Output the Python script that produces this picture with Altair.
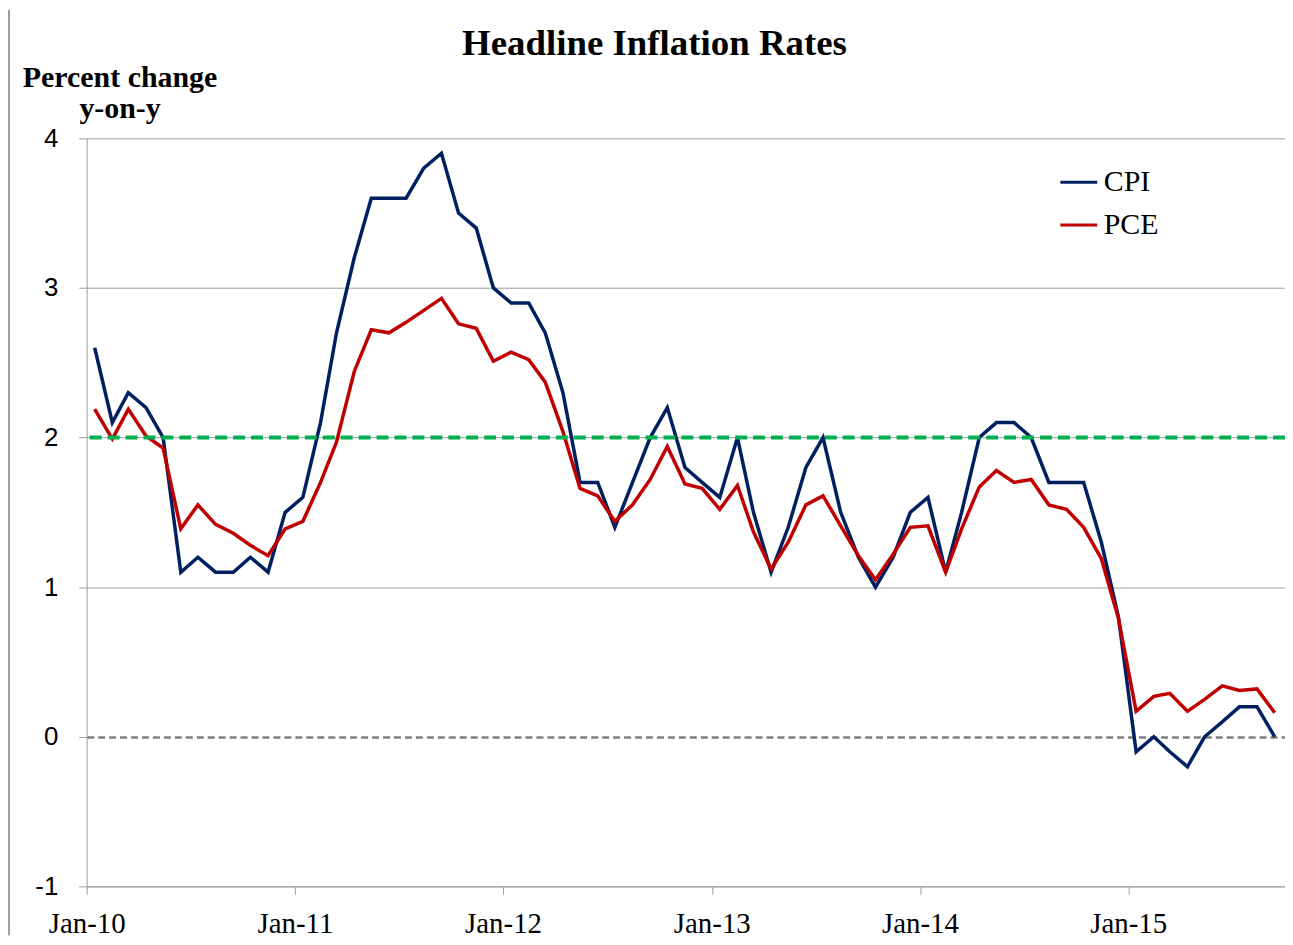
import altair as alt
import pandas as pd

years = [2010, 2011, 2012, 2013, 2014, 2015]

cpi = [
    2.6, 2.1, 2.3, 2.2, 2.0, 1.1, 1.2, 1.1, 1.1, 1.2, 1.1, 1.5,
    1.6, 2.1, 2.7, 3.2, 3.6, 3.6, 3.6, 3.8, 3.9, 3.5, 3.4, 3.0,
    2.9, 2.9, 2.7, 2.3, 1.7, 1.7, 1.4, 1.7, 2.0, 2.2, 1.8, 1.7,
    1.6, 2.0, 1.5, 1.1, 1.4, 1.8, 2.0, 1.5, 1.2, 1.0, 1.2, 1.5,
    1.6, 1.1, 1.5, 2.0, 2.1, 2.1, 2.0, 1.7, 1.7, 1.7, 1.3, 0.8,
    -0.1, 0.0, -0.1, -0.2, 0.0, 0.1, 0.2, 0.2, 0.0,
]

pce = [
    2.19, 1.99, 2.19, 2.01, 1.93, 1.39, 1.55, 1.42, 1.36, 1.28, 1.21, 1.39,
    1.44, 1.70, 1.97, 2.44, 2.72, 2.70, 2.77, 2.85, 2.93, 2.76, 2.73, 2.51,
    2.57, 2.52, 2.37, 2.04, 1.66, 1.61, 1.44, 1.55, 1.72, 1.94, 1.69, 1.66,
    1.52, 1.68, 1.37, 1.12, 1.30, 1.55, 1.61, 1.41, 1.21, 1.05, 1.22, 1.40,
    1.41, 1.10, 1.39, 1.67, 1.78, 1.70, 1.72, 1.55, 1.52, 1.40, 1.19, 0.79,
    0.17, 0.27, 0.29, 0.17, 0.25, 0.34, 0.31, 0.32, 0.16,
]

series_names = ["CPI", "PCE"]
series_colors = ["#002060", "#c00000"]
target_rate = [2.0]
y_ticks = [-1, 0, 1, 2, 3, 4]
chart_title = ["Headline Inflation Rates"]
y_title = ["Percent change", "y-on-y"]

n = len(cpi)
month_dates = [f"{y}-{m:02d}-15" for y in years for m in range(1, 13)][:n]

df = pd.DataFrame({
    "date": month_dates * 2,
    "series": ["CPI"] * n + ["PCE"] * n,
    "value": cpi + pce,
})
target_df = pd.DataFrame({"target": target_rate})
title_df = pd.DataFrame({"title": chart_title})
frame_df = pd.DataFrame({"k": [0]})

serif = "Liberation Serif"
sans = "Liberation Sans"
axis_gray = "#a0a0a0"

x_scale = alt.Scale(
    type="utc",
    domain=[alt.DateTime(year=2010, month=1, date=1, utc=True),
            alt.DateTime(year=2015, month=10, date=3, utc=True)],
)
y_scale = alt.Scale(domain=[-1, 4], nice=False, zero=False)

x_axis = alt.Axis(
    values=[alt.DateTime(year=y, month=1, date=1, utc=True) for y in years],
    format="%b-%y",
    grid=False,
    title=None,
    labelFont=serif,
    labelFontSize=29,
    labelColor="black",
    labelPadding=15,
    tickSize=8,
    tickColor=axis_gray,
    domainColor=axis_gray,
    labelFlush=False,
)

y_axis = alt.Axis(
    values=y_ticks,
    labelExpr="'' + datum.value",
    labelFont=sans,
    labelFontSize=26,
    labelColor="black",
    labelPadding=21,
    tickSize=8,
    tickColor=axis_gray,
    domainColor=axis_gray,
    grid=True,
    gridColor={"condition": {"test": "datum.value === 0", "value": "#7f7f7f"}, "value": axis_gray},
    gridWidth={"condition": {"test": "datum.value === 0", "value": 2.5}, "value": 1},
    gridDash={"condition": {"test": "datum.value === 0", "value": [7, 4]}, "value": []},
    title=y_title,
    titleAngle=0,
    titleAlign="center",
    titleBaseline="alphabetic",
    titleX=33,
    titleY=-52,
    titleFont=serif,
    titleFontSize=30,
    titleFontWeight="bold",
    titleColor="black",
    titleLineHeight=31,
)

lines = alt.Chart(df).mark_line(strokeWidth=3.5).encode(
    x=alt.X("date:T", scale=x_scale, axis=x_axis),
    y=alt.Y("value:Q", scale=y_scale, axis=y_axis),
    color=alt.Color(
        "series:N",
        scale=alt.Scale(domain=series_names, range=series_colors),
        legend=alt.Legend(
            title=None,
            orient="none",
            legendX=976,
            legendY=24,
            padding=0,
            symbolType="stroke",
            symbolSize=1369,
            symbolStrokeWidth=3,
            labelFont=serif,
            labelFontSize=30,
            labelColor="black",
            labelOffset=5,
            rowPadding=8,
        ),
    ),
)

target = alt.Chart(target_df).mark_rule(
    color="#00b050", strokeWidth=4, strokeDash=[12, 6]
).encode(y=alt.Y("target:Q", scale=y_scale))

title = alt.Chart(title_df).mark_text(
    font=serif, fontSize=37, fontWeight="bold", color="black",
    align="center", baseline="alphabetic",
).encode(x=alt.value(570), y=alt.value(-84), text="title:N")

frame = alt.Chart(frame_df).mark_rule(color="#a0a0a0", strokeWidth=2).encode(
    x=alt.value(-78), y=alt.value(-129), y2=alt.value(800)
)

chart = alt.layer(lines, target, title, frame).properties(
    width=1203,
    height=751,
    autosize=alt.AutoSizeParams(type="none"),
    padding={"left": 79, "top": 129, "right": 0, "bottom": 52},
).configure_view(stroke="transparent")

chart.save("out.html", embed_options={"renderer": "svg", "actions": False})
